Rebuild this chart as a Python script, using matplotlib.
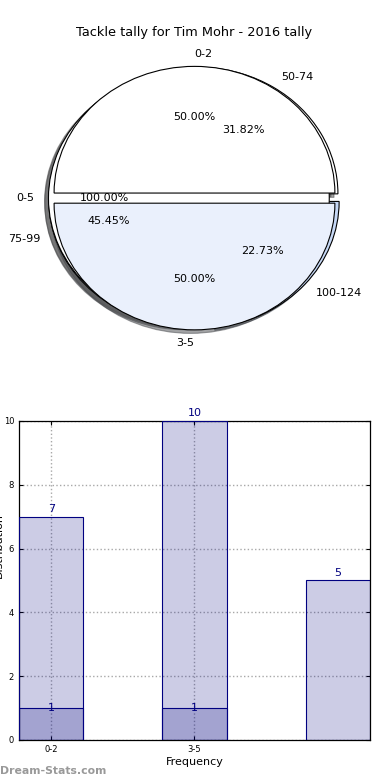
import matplotlib
matplotlib.use("Agg")
import matplotlib.pyplot as plt

# data
pie_a_labels = ["0-2", "3-5"]
pie_a_values = [1, 1]
pie_b_labels = ["0-5"]
pie_b_values = [1]
pie_c_labels = ["50-74", "75-99", "100-124"]
pie_c_values = [7, 10, 5]

bar_low = [1, 1]
bar_high = [7, 10, 5]
xtick_labels = ["0-2", "3-5"]

NAVY = "#000080"
COLORS = ["white", "#eaf0fc", "#c6d8f6"]

fig = plt.figure(figsize=(3.9, 7.8), dpi=100)

# ---- overlapping pies (drawn bottom to top) ----
ax1 = fig.add_axes([0.0487, 0.543, 0.9, 0.406])
wp = {"edgecolor": "black", "linewidth": 0.8}
tp = {"fontsize": 8}
for vals, labs in [(pie_c_values, pie_c_labels),
                   (pie_b_values, pie_b_labels),
                   (pie_a_values, pie_a_labels)]:
    res = ax1.pie(vals, labels=labs, colors=COLORS[:len(vals)], explode=[0.04] * len(vals),
                  autopct="%1.2f%%", shadow=True, startangle=0,
                  wedgeprops=wp, textprops=tp)
# top label reads to the right of centre, bottom label to the left
res[1][0].set_ha("left")
res[1][1].set_ha("right")
ax1.set_aspect("auto")
ax1.set_xlim(-1.25, 1.25)
ax1.set_ylim(-1.25, 1.25)
ax1.set_title("Tackle tally for Tim Mohr - 2016 tally", fontsize=9.3, pad=3)

# ---- bars ----
ax2 = fig.add_axes([0.0487, 0.0513, 0.9, 0.409])
w = 0.45
xl = list(range(len(bar_low)))
xh = list(range(len(bar_high)))
ax2.bar(xh, bar_high, width=w, color=NAVY, alpha=0.2, zorder=2)
ax2.bar(xh, bar_high, width=w, facecolor="none", edgecolor=NAVY, linewidth=0.8, zorder=3)
ax2.bar(xl, bar_low, width=w, color=NAVY, alpha=0.2, zorder=2)
ax2.bar(xl, bar_low, width=w, facecolor="none", edgecolor=NAVY, linewidth=0.8, zorder=3)
for x, h in zip(xh, bar_high):
    ax2.annotate(str(h), (x, h), xytext=(0, 2), textcoords="offset points",
                 ha="center", va="bottom", color=NAVY, fontsize=8)
for x, h in zip(xl, bar_low):
    ax2.text(x, h, str(h), ha="center", va="center", color=NAVY, fontsize=8, zorder=4)

ax2.set_xlim(-w / 2, len(bar_high) - 1 + w / 2)
ax2.set_ylim(0, 10)
ax2.set_xticks(xl)
ax2.set_xticklabels(xtick_labels)
ax2.set_yticks(range(0, 11, 2))
ax2.tick_params(labelsize=6, direction="in", top=True, right=True, length=3)
ax2.grid(True, linestyle=":", color="#a8a8a8", linewidth=1.0, zorder=0)
ax2.set_axisbelow(True)
ax2.set_xlabel("Frequency", fontsize=8, labelpad=2)
for s in ax2.spines.values():
    s.set_linewidth(0.9)

fig.text(-0.016, 0.30, "Distribution", rotation=90, fontsize=8, ha="left", va="center")
fig.text(0.0, 0.005, "Dream-Stats.com", fontsize=7.8, color="#999999",
         weight="bold", ha="left", va="bottom")

fig.savefig("out.png", dpi=100, facecolor="white")
